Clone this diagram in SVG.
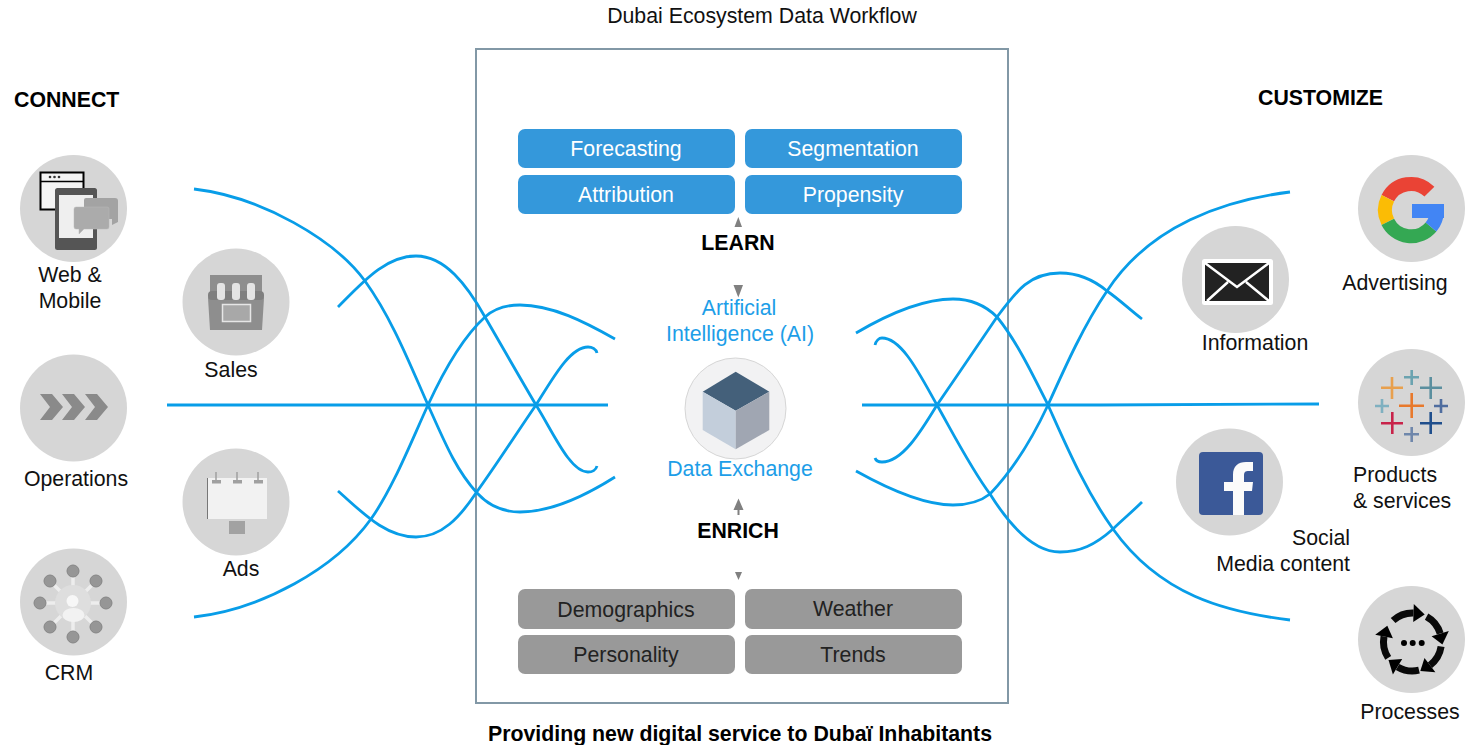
<svg xmlns="http://www.w3.org/2000/svg" width="1469" height="745" viewBox="0 0 1469 745">
<style>
text{font-family:"Liberation Sans",Arial,sans-serif;font-size:21.3px;fill:#111}
.b{font-weight:bold;fill:#000}
.m{text-anchor:middle}
.e{text-anchor:end}
.ai{fill:#1d9ee8}
.w{fill:#fff}
.d{fill:#222}
.disc{fill:#d6d6d6}
.blue{fill:#3498db}
.grey{fill:#999}
.tri{fill:#808080}
.link{fill:none;stroke:#089de8;stroke-width:2.8}
.ar{fill:none;stroke:#0a0a0a;stroke-width:7}
.tab{fill:none;stroke-width:2.6}
</style>
<rect width="1469" height="745" fill="#fff"/>
<g id="frame"><rect x="476" y="49" width="532" height="654" fill="#fff" stroke="#8298a6" stroke-width="2"/></g>
<text class="m" x="762" y="23">Dubai Ecosystem Data Workflow</text>
<text class="b" x="14" y="107">CONNECT</text>
<text class="b" x="1258" y="105">CUSTOMIZE</text>
<text class="b m" x="740" y="741">Providing new digital service to Dubaï Inhabitants</text>

<g id="connectors">
<path class="link" d="M194,189C262,197 335,240 365,281C393,320 411,367 428,405C445,443 456,470 477,493C489,506 504,512 520,512C552,512 585,496 615,477"/>
<path class="link" d="M194,617C262,609 335,569 371,519C393,488 411,442 428,405C445,368 463,337 485,317C495,308 508,305 520,305C552,305 585,322 615,339"/>
<path class="link" d="M338,307C362,283 385,256 416,256C445,256 467,285 485,317C503,348 520,378 536,405C553,432 570,472 588,472C592,472 596,470 597,466"/>
<path class="link" d="M338,491C362,512 385,537 416,537C442,537 460,517 476,493C497,464 516,434 536,405C553,378 570,347 588,347C592,347 596,349 597,353"/>
<path class="link" d="M167,405H608"/>
<path class="link" d="M856,333C890,313 925,299 953,299C973,299 986,306 997,317C1016,340 1033,375 1048,405C1066,445 1085,490 1113,529C1160,595 1225,612 1290,620"/>
<path class="link" d="M856,471C890,490 925,505 953,505C970,505 981,501 990,494C1013,470 1033,437 1048,405C1066,365 1084,325 1107,291C1150,225 1225,200 1290,192"/>
<path class="link" d="M875,345C876,341 879,338 882,338C902,338 920,375 937,405C955,437 972,470 990,494C1005,518 1030,552 1060,552C1080,552 1095,545 1113,529C1122,520 1132,512 1142,502"/>
<path class="link" d="M875,458C876,461 879,462 882,462C902,462 920,433 937,405C957,376 978,345 997,317C1017,290 1030,273 1060,273C1080,273 1095,281 1107,291C1120,300 1130,310 1142,319"/>
<path class="link" d="M862,405H1100L1319,404"/>
<path class="tri" d="M738.3,217L734.5,227H742Z"/>
<path class="tri" d="M738.3,297.5L733.5,285H743Z"/>
<path class="tri" d="M738.5,498.5L733.5,510H737.5V515H739.5V510H743.5Z"/>
<path class="tri" d="M738.5,580L735,572H742Z"/>
</g>

<g id="forecasting"><rect class="blue" x="518" y="129" width="217" height="39" rx="7"/><text class="w m" x="626" y="156">Forecasting</text></g>
<g id="segmentation"><rect class="blue" x="745" y="129" width="217" height="39" rx="7"/><text class="w m" x="853" y="156">Segmentation</text></g>
<g id="attribution"><rect class="blue" x="518" y="175" width="217" height="39" rx="7"/><text class="w m" x="626" y="202">Attribution</text></g>
<g id="propensity"><rect class="blue" x="745" y="175" width="217" height="39" rx="7"/><text class="w m" x="853" y="202">Propensity</text></g>
<g id="demographics"><rect class="grey" x="518" y="589" width="217" height="40" rx="7"/><text class="d m" x="626" y="617">Demographics</text></g>
<g id="weather"><rect class="grey" x="745" y="589" width="217" height="40" rx="7"/><text class="d m" x="853" y="616">Weather</text></g>
<g id="personality"><rect class="grey" x="518" y="635" width="217" height="39" rx="7"/><text class="d m" x="626" y="662">Personality</text></g>
<g id="trends"><rect class="grey" x="745" y="635" width="217" height="39" rx="7"/><text class="d m" x="853" y="662">Trends</text></g>
<g id="learn"><text class="b m" x="738" y="250">LEARN</text></g>
<g id="enrich"><text class="b m" x="738" y="538">ENRICH</text></g>

<g id="data-exchange">
<text class="ai m" x="739" y="315">Artificial</text>
<text class="ai m" x="740" y="341">Intelligence (AI)</text>
<circle cx="735.5" cy="408.5" r="50.5" fill="#f2f2f3" stroke="#d6d6d6"/>
<path fill="#44607a" d="M735.7,371.7L769.3,391.7L735.7,410.7L702.7,391.7Z"/>
<path fill="#c3cedb" d="M702.7,391.7L735.7,410.7V449.3L702.7,430Z"/>
<path fill="#a0a6b2" d="M735.7,410.7L769.3,391.7V430L735.7,449.3Z"/>
<text class="ai m" x="740" y="476">Data Exchange</text>
</g>

<g id="web-mobile">
<circle class="disc" cx="73.5" cy="208.500" r="53.5"/>
<rect x="40.5" y="172.5" width="43" height="37" fill="#f4f4f4" stroke="#000" stroke-width="2"/>
<path d="M40,181.5H84" stroke="#000" stroke-width="1.5"/>
<circle cx="50" cy="177" r="1.3" fill="#333"/><circle cx="54.500" cy="177" r="1.3" fill="#333"/><circle cx="59" cy="177" r="1.3" fill="#333"/>
<rect x="55" y="188" width="42" height="62" rx="2.500" fill="#555"/>
<rect x="59" y="195" width="34" height="43" fill="#efefef"/>
<path fill="#a3a3a3" d="M86,198H115Q118,198 118,201V222L112,225V219H84V200Q84,198 86,198Z"/>
<path fill="#ababab" d="M76,207H107Q109,207 109,209V227Q109,229 107,229H84L79,234V229H76Q74,229 74,227V209Q74,207 76,207Z" stroke="#bbb" stroke-width=".5"/>
<text class="m" x="70" y="282">Web &amp;</text><text class="m" x="70" y="308">Mobile</text>
</g>

<g id="sales">
<circle class="disc" cx="236" cy="302" r="53.500"/>
<path fill="#8e8e8e" d="M210,275H262V292L264,298L262,330H210L208,298L210,292Z"/>
<rect x="208" y="291" width="56" height="9" rx="4" fill="#7f7f7f"/>
<rect x="217" y="283" width="8" height="17" rx="3" fill="#e4e4e4"/><rect x="232" y="283" width="8" height="17" rx="3" fill="#e4e4e4"/><rect x="247" y="283" width="8" height="17" rx="3" fill="#e4e4e4"/>
<rect x="222.500" y="304.500" width="28" height="17" fill="#a8a8a8" stroke="#e6e6e6" stroke-width="1.500"/>
<text class="m" x="231" y="377">Sales</text>
</g>

<g id="operations">
<circle class="disc" cx="73.5" cy="408" r="53.500"/>
<path fill="#8a8a8a" d="M40,394H52L63,407L52,420H40L50,407Z"/><path fill="#8a8a8a" d="M62,394H74L85,407L74,420H62L72,407Z"/><path fill="#8a8a8a" d="M85,394H97L108,407L97,420H85L95,407Z"/>
<text class="m" x="76" y="486">Operations</text>
</g>

<g id="ads">
<circle class="disc" cx="236" cy="502" r="53.500"/>
<rect x="207" y="478" width="60" height="41" fill="#f2f2f2"/>
<path d="M207.500,478V519" stroke="#777" stroke-width="1"/>
<path d="M216,472V481M237,472V481M258,472V481" stroke="#a0a0a0" stroke-width="1.500"/>
<rect x="212" y="480" width="9" height="3.500" fill="#a0a0a0"/><rect x="233" y="480" width="9" height="3.500" fill="#a0a0a0"/><rect x="254" y="480" width="9" height="3.500" fill="#a0a0a0"/>
<rect x="229" y="521" width="16" height="13" fill="#a2a2a2"/>
<text class="m" x="241" y="576">Ads</text>
</g>

<g id="crm">
<circle class="disc" cx="73.500" cy="602" r="53.500"/>
<path d="M73,571V637M50,581L96,627M96,581L50,627M40,603H106" stroke="#ededed" stroke-width="3.500"/>
<g fill="#969696" stroke="#868686"><circle cx="73" cy="571" r="6"/><circle cx="50" cy="581" r="6"/><circle cx="96" cy="581" r="6"/><circle cx="40" cy="603" r="6"/><circle cx="106" cy="603" r="6"/><circle cx="50" cy="627" r="6"/><circle cx="96" cy="627" r="6"/><circle cx="73" cy="637" r="6"/></g>
<circle cx="73" cy="603" r="18" fill="#dedede"/>
<circle cx="72.500" cy="601" r="6" fill="#f7f7f7"/>
<ellipse cx="73.500" cy="615" rx="11" ry="7" fill="#f2f2f2"/>
<text class="m" x="69" y="680">CRM</text>
</g>

<g id="advertising">
<circle class="disc" cx="1411.500" cy="208.500" r="53.500"/>
<g fill="none" stroke-width="14">
<path stroke="#ea4335" d="M1429.400,191.600A26,26 0 0 0 1387.800,198.200"/>
<path stroke="#fbbc05" d="M1387.800,198.200A26,26 0 0 0 1387.800,221.800"/>
<path stroke="#34a853" d="M1387.800,221.800A26,26 0 0 0 1431,227"/>
<path stroke="#4285f4" d="M1431,227A26,26 0 0 0 1437,211"/>
</g>
<rect x="1412" y="204" width="32" height="14" fill="#4285f4"/>
<text class="m" x="1395" y="290">Advertising</text>
</g>

<g id="information">
<circle class="disc" cx="1235.500" cy="279.500" r="53.500"/>
<rect x="1202" y="259" width="71" height="46" rx="2.500" fill="#fff"/>
<rect x="1205" y="263" width="64" height="38" fill="#222"/>
<path d="M1205,263L1237,287L1269,263M1207,301L1228,282M1269,301L1246,282" fill="none" stroke="#fff" stroke-width="2.500"/>
<text class="m" x="1255" y="350">Information</text>
</g>

<g id="products">
<circle class="disc" cx="1411.500" cy="402.500" r="53.500"/>
<path class="tab" stroke="#e8a04e" d="M1381,387.700H1403M1392,377V399"/>
<path class="tab" stroke="#6ba3b0" d="M1404,377.300H1419M1411.700,370V385"/>
<path class="tab" stroke="#5b8f9f" d="M1420,387.700H1442M1430.700,377V399"/>
<path class="tab" stroke="#7fb0c0" d="M1375,406H1389M1382,399V413"/>
<path class="tab" stroke="#e8792c" d="M1399,405.700H1424M1411.700,393V418"/>
<path class="tab" stroke="#4f6d9f" d="M1434,406H1448M1441,399V413"/>
<path class="tab" stroke="#c8234a" d="M1381,423.300H1403M1392.300,412V434"/>
<path class="tab" stroke="#1f4e8c" d="M1420,423.300H1442M1430.700,412V434"/>
<path class="tab" stroke="#6f87ab" d="M1404,434.300H1419M1411.700,427V442"/>
<text x="1353" y="482">Products</text><text x="1353" y="508">&amp; services</text>
</g>

<g id="social">
<circle class="disc" cx="1229.500" cy="482" r="53.500"/>
<rect x="1199" y="452" width="64" height="63" rx="4" fill="#3b5998"/>
<path fill="#fbfbfb" d="M1233,515V491H1224V482H1233V475C1233,466 1238,462 1246,462H1253V471H1249C1245,471 1244,472 1244,476V482H1253L1252,491H1244V515Z"/>
<text class="e" x="1350" y="545">Social</text><text class="e" x="1350" y="571">Media content</text>
</g>

<g id="processes">
<circle class="disc" cx="1411.500" cy="639.500" r="53.500"/>
<path class="ar" d="M1393.100,620.500A29,29 0 0 1 1413.500,613"/><path d="M1413.200,622L1413.800,604L1424.700,614.600Z"/>
<path class="ar" d="M1426.600,616.600A29,29 0 0 1 1440.200,633.500"/><path d="M1431.600,636.200L1448.800,630.900L1442.400,644.600Z"/>
<path class="ar" d="M1441.100,646.500A29,29 0 0 1 1430,665.200"/><path d="M1424.500,658L1435.400,672.300L1420.300,671Z"/>
<path class="ar" d="M1419,670.200A29,29 0 0 1 1397.600,666.900"/><path d="M1402.200,659.100L1392.900,674.600L1388.500,660.100Z"/>
<path class="ar" d="M1388.200,657.800A29,29 0 0 1 1384,636.500"/><path d="M1392.900,638.200L1375.200,634.700L1387.300,625.700Z"/>
<circle cx="1404" cy="643" r="3"/><circle cx="1412.700" cy="643" r="3"/><circle cx="1421.700" cy="643" r="3"/>
<text class="m" x="1410" y="719">Processes</text>
</g>
</svg>
